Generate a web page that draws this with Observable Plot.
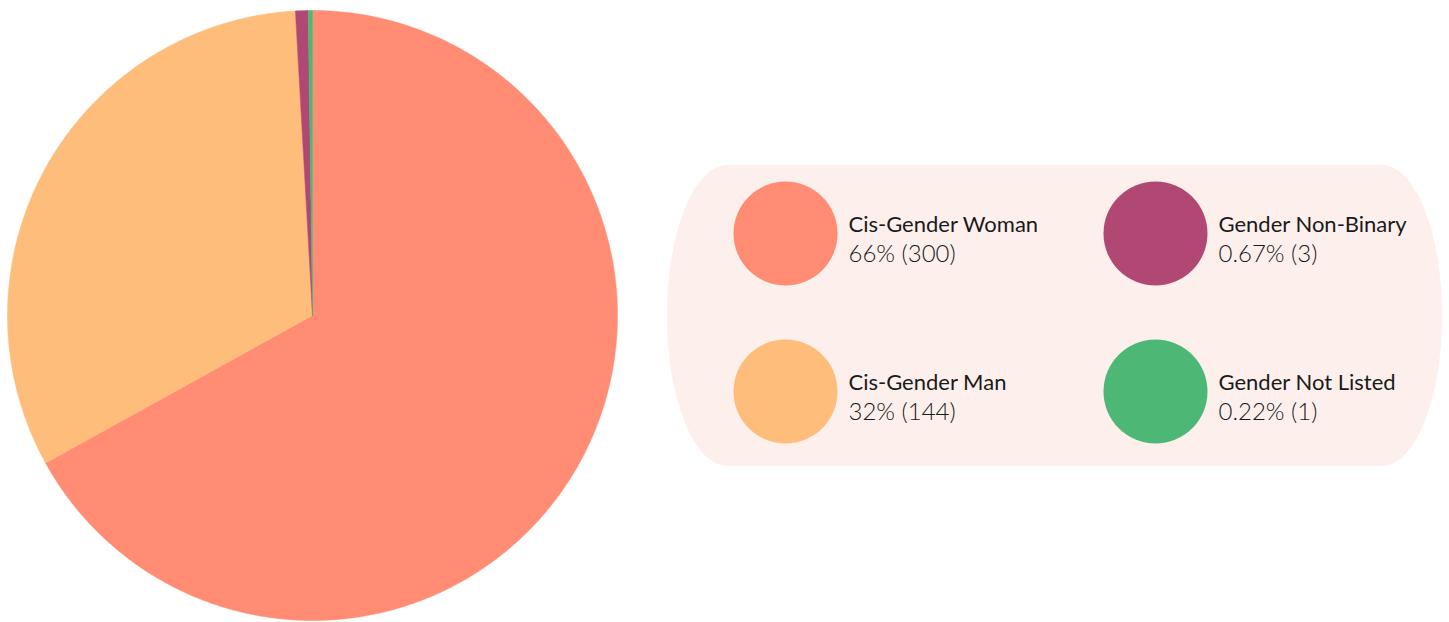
<!DOCTYPE html>
<html>
<head>
<meta charset="utf-8">
<script src="https://cdn.jsdelivr.net/npm/d3@7"></script>
<script src="https://cdn.jsdelivr.net/npm/@observablehq/plot@0.6"></script>
<style>
  html, body { margin: 0; padding: 0; background: #fff; }
  #wrap { position: relative; width: 1449px; height: 622px; overflow: hidden; }
  #pie { position: absolute; left: 0; top: 0; }
  #legend { position: absolute; left: 667px; top: 165px; }
</style>
</head>
<body>
<div id="wrap"><div id="pie"></div><div id="legend"></div></div>
<script>
// ---- data ----
const categories = ["Cis-Gender Woman", "Cis-Gender Man", "Gender Non-Binary", "Gender Not Listed"];
const counts = [300, 144, 3, 1];
const percentLabels = ["66%", "32%", "0.67%", "0.22%"];
const colors = ["#ff8c73", "#ffbd7b", "#b04873", "#4db876"];
const legendCol = [0, 0, 1, 1];
const legendRow = [0, 1, 0, 1];

const rows = categories.map((name, i) => ({
  name, count: counts[i], pct: percentLabels[i],
  col: legendCol[i], row: legendRow[i]
}));

// ---- pie wedges computed from data ----
const arcs = d3.pie().sort(null).value(d => d.count)(rows);
const pts = [];
for (const a of arcs) {
  const n = Math.max(2, Math.ceil((a.endAngle - a.startAngle) / (Math.PI / 360)));
  pts.push({name: a.data.name, x: 0, y: 0});
  for (let k = 0; k <= n; k++) {
    const t = a.startAngle + (a.endAngle - a.startAngle) * k / n;
    pts.push({name: a.data.name, x: Math.sin(t), y: Math.cos(t)});
  }
  pts.push({name: a.data.name, x: 0, y: 0});
}

const colorScale = {domain: categories, range: colors};
const R = 305, CX = 312, CY = 315;

const pie = Plot.plot({
  width: 625, height: 622,
  margin: 0,
  x: {domain: [-1, 1], range: [CX - R, CX + R], axis: null},
  y: {domain: [-1, 1], range: [CY + R, CY - R], axis: null},
  color: colorScale,
  marks: [
    Plot.line(pts, {x: "x", y: "y", z: "name", fill: "name", stroke: "name", strokeWidth: 0.5})
  ]
});
document.getElementById("pie").appendChild(pie);

const font = "Lato, 'Noto Sans', sans-serif";
const legend = Plot.plot({
  width: 775, height: 301,
  margin: 0,
  style: {background: "#fdf0ec", borderRadius: "60px / 150px", fontFamily: font},
  x: {type: "point", domain: [0, 1], range: [118, 488], padding: 0, axis: null},
  y: {type: "point", domain: [0, 1], range: [68, 226], padding: 0, axis: null},
  color: colorScale,
  marks: [
    Plot.dot(rows, {x: "col", y: "row", r: 52, fill: "name", stroke: null}),
    Plot.text(rows, {x: "col", y: "row", text: "name", dx: 63, dy: -9, textAnchor: "start",
      fontSize: 22, fontWeight: 400, fill: "#1a1a1a", fontFamily: font}),
    Plot.text(rows, {x: "col", y: "row", text: d => `${d.pct} (${d.count})`, dx: 63, dy: 21, textAnchor: "start",
      fontSize: 24, fontWeight: 300, fill: "#1a1a1a", fontFamily: font})
  ]
});
document.getElementById("legend").appendChild(legend);
</script>
</body>
</html>
